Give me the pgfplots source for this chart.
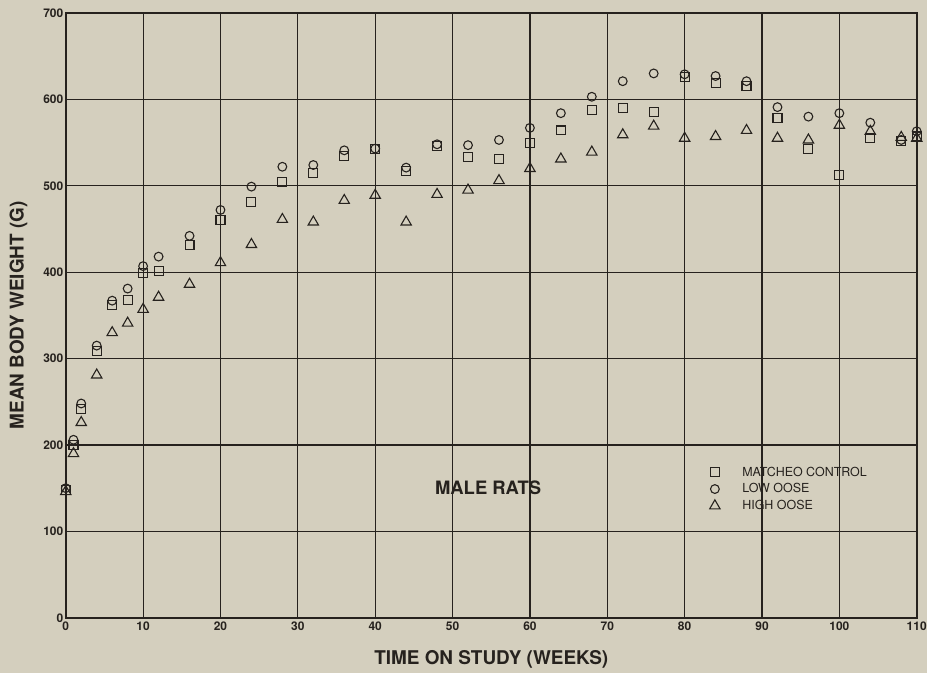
\documentclass[border=0pt]{standalone}
\usepackage{pgfplots}
\pgfplotsset{compat=1.18}
\usepackage{fontspec}
\setmainfont{TeX Gyre Heros}
\definecolor{bgcol}{RGB}{212,207,190}
\definecolor{ink}{RGB}{38,34,30}
\begin{document}
\begin{tikzpicture}
\fill[bgcol] (-66pt,-55pt) rectangle (864pt,620pt);
\begin{axis}[
  at={(0,0)}, anchor=south west,
  scale only axis, width=854pt, height=607pt,
  xmin=0, xmax=110, ymin=0, ymax=700,
  xtick={0,10,...,110}, ytick={0,100,...,700},
  grid=major,
  major grid style={draw=ink, line width=1.2pt},
  axis line style={draw=ink, line width=2pt},
  tick style={draw=none},
  clip=false,
  /pgf/number format/assume math mode=true,
  ticklabel style={font=\bfseries\fontsize{12}{14}\selectfont, text=ink},
  xticklabel style={yshift=-1pt},
  yticklabel style={xshift=1pt},
  xlabel={TIME ON STUDY (WEEKS)},
  ylabel={MEAN BODY WEIGHT (G)},
  label style={font=\bfseries\fontsize{19}{21}\selectfont, text=ink},
  xlabel style={at={(axis description cs:0.5,-0.0684)}, anchor=center},
  ylabel style={at={(axis description cs:-0.0556,0.5)}, anchor=center, rotate=0},
  legend image code/.code={\path (-5pt,0pt) (25pt,0pt); \draw[#1, only marks] plot coordinates {(0pt,0pt)};},
  legend style={at={(axis cs:83.17,149)}, anchor=west, draw=none, fill=none, inner sep=0pt,
    font=\fontsize{12.5}{14}\selectfont, text=ink, row sep=2pt},
  legend cell align=left,
]
\addplot[only marks, mark=square, mark size=4.5pt, draw=ink, line width=1.1pt] coordinates {
(0,148) (1,200) (2,242) (4,309) (6,362) (8,368) (10,399) (12,401) (16,431) (20,460)
(24,481) (28,504) (32,515) (36,534) (40,543) (44,517) (48,546) (52,533) (56,531) (60,549)
(64,564) (68,588) (72,590) (76,585) (80,626) (84,619) (88,615) (92,578) (96,543) (100,512)
(104,555) (108,552) (110,557)};
\addlegendentry{MATCHEO CONTROL}
\addplot[only marks, mark=o, mark size=4.4pt, draw=ink, line width=1.1pt] coordinates {
(0,150) (1,206) (2,248) (4,315) (6,367) (8,381) (10,407) (12,418) (16,442) (20,472)
(24,499) (28,522) (32,524) (36,541) (40,543) (44,521) (48,548) (52,547) (56,553) (60,567)
(64,584) (68,603) (72,621) (76,630) (80,629) (84,627) (88,621) (92,591) (96,580) (100,584)
(104,573) (108,553) (110,563)};
\addlegendentry{LOW OOSE}
\addplot[only marks, mark=triangle, mark size=6pt, draw=ink, line width=1.1pt] coordinates {
(0,146) (1,190) (2,226) (4,281) (6,330) (8,341) (10,357) (12,371) (16,386) (20,411)
(24,432) (28,461) (32,458) (36,483) (40,489) (44,458) (48,490) (52,495) (56,506) (60,520)
(64,531) (68,539) (72,559) (76,569) (80,555) (84,557) (88,564) (92,555) (96,553) (100,570)
(104,563) (108,556) (110,555)};
\addlegendentry{HIGH OOSE}
\node[font=\bfseries\fontsize{18.5}{20}\selectfont, text=ink] at (axis cs:54.6,150.5) {MALE RATS};
\end{axis}
\end{tikzpicture}
\end{document}
